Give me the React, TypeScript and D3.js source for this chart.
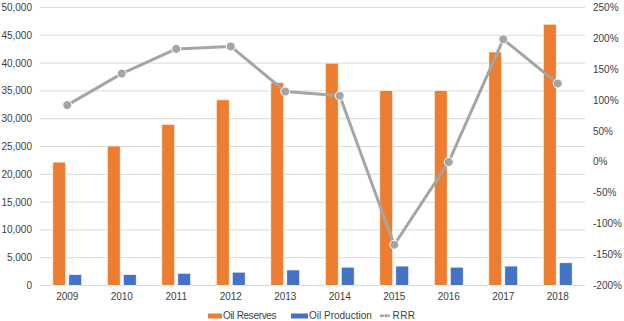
import React from "react";
import * as d3 from "d3";

const years = ["2009", "2010", "2011", "2012", "2013", "2014", "2015", "2016", "2017", "2018"];
const oilReserves = [22200, 25100, 29000, 33400, 36500, 40000, 35100, 35100, 42000, 47000];
const oilProduction = [2000, 2000, 2200, 2400, 2800, 3300, 3500, 3300, 3500, 4100];
const rrr = [0.92, 1.43, 1.83, 1.87, 1.14, 1.07, -1.34, 0.0, 1.985, 1.27];
const leftTicks = [0, 5000, 10000, 15000, 20000, 25000, 30000, 35000, 40000, 45000, 50000];
const rightTicks = [-2, -1.5, -1, -0.5, 0, 0.5, 1, 1.5, 2, 2.5];

const W = 624;
const H = 321;
const M = { left: 40, right: 585, top: 7.5, bottom: 285.5 };
const FONT = "'Liberation Sans', Arial, sans-serif";
const TXT = "#404040";
const FS = 10;

export default function App() {
  const x = d3.scaleBand<string>().domain(years).range([M.left, M.right]);
  const yL = d3.scaleLinear().domain([0, 50000]).range([M.bottom, M.top]);
  const yR = d3.scaleLinear().domain([-2, 2.5]).range([M.bottom, M.top]);
  const fmtL = d3.format(",");
  const fmtR = (v: number) => `${Math.round(v * 100)}%`;
  const bw = 13;
  const gap = 1.5;
  const cx = (y: string) => (x(y) as number) + x.bandwidth() / 2;
  const line = d3
    .line<number>()
    .x((_, i) => cx(years[i]))
    .y((d) => yR(d));

  return (
    <svg width={W} height={H} style={{ position: "absolute", left: 0, top: 0, background: "#fff" }}>
      <rect width={W} height={H} fill="#fff" />
      {leftTicks.map((t) => (
        <line key={t} x1={M.left} x2={M.right} y1={yL(t)} y2={yL(t)} stroke="#d9d9d9" strokeWidth={1} />
      ))}
      {leftTicks.map((t) => (
        <text key={"l" + t} x={32} y={yL(t)} dy="0.35em" textAnchor="end" fontSize={FS} fontFamily={FONT} fill={TXT}>
          {fmtL(t)}
        </text>
      ))}
      {rightTicks.map((t) => (
        <text key={"r" + t} x={593} y={yR(t)} dy="0.35em" textAnchor="start" fontSize={FS} fontFamily={FONT} fill={TXT}>
          {fmtR(t)}
        </text>
      ))}
      {years.map((y) => (
        <text key={"x" + y} x={cx(y)} y={296} dy="0.35em" textAnchor="middle" fontSize={FS} fontFamily={FONT} fill={TXT}>
          {y}
        </text>
      ))}
      {years.map((y, i) => (
        <g key={"b" + y}>
          <rect
            x={cx(y) - gap - bw}
            y={yL(oilReserves[i])}
            width={bw}
            height={yL(0) - yL(oilReserves[i])}
            fill="#ed7d31"
            stroke="#fff"
            strokeWidth={0.75}
          />
          <rect
            x={cx(y) + gap}
            y={yL(oilProduction[i])}
            width={bw}
            height={yL(0) - yL(oilProduction[i])}
            fill="#4472c4"
            stroke="#fff"
            strokeWidth={0.75}
          />
        </g>
      ))}
      <path d={line(rrr) || ""} fill="none" stroke="#a5a5a5" strokeWidth={3} strokeLinejoin="round" />
      {rrr.map((v, i) => (
        <circle key={"c" + i} cx={cx(years[i])} cy={yR(v)} r={4.5} fill="#a5a5a5" stroke="#fff" strokeWidth={1} />
      ))}
      <g fontFamily={FONT} fontSize={FS} fill={TXT}>
        <rect x={208} y={313.5} width={14} height={5} fill="#ed7d31" />
        <text x={223} y={315.7} dy="0.35em" textLength={53.5}>Oil Reserves</text>
        <rect x={291} y={313.5} width={17} height={5} fill="#4472c4" />
        <text x={309} y={315.7} dy="0.35em">Oil Production</text>
        <line x1={380} x2={392} y1={315.7} y2={315.7} stroke="#a5a5a5" strokeWidth={2.5} strokeDasharray="4,2" />
        <circle cx={386} cy={315.7} r={2} fill="#a5a5a5" stroke="#fff" strokeWidth={0.5} />
        <text x={392.5} y={315.7} dy="0.35em" textLength={22.5}>RRR</text>
      </g>
    </svg>
  );
}
